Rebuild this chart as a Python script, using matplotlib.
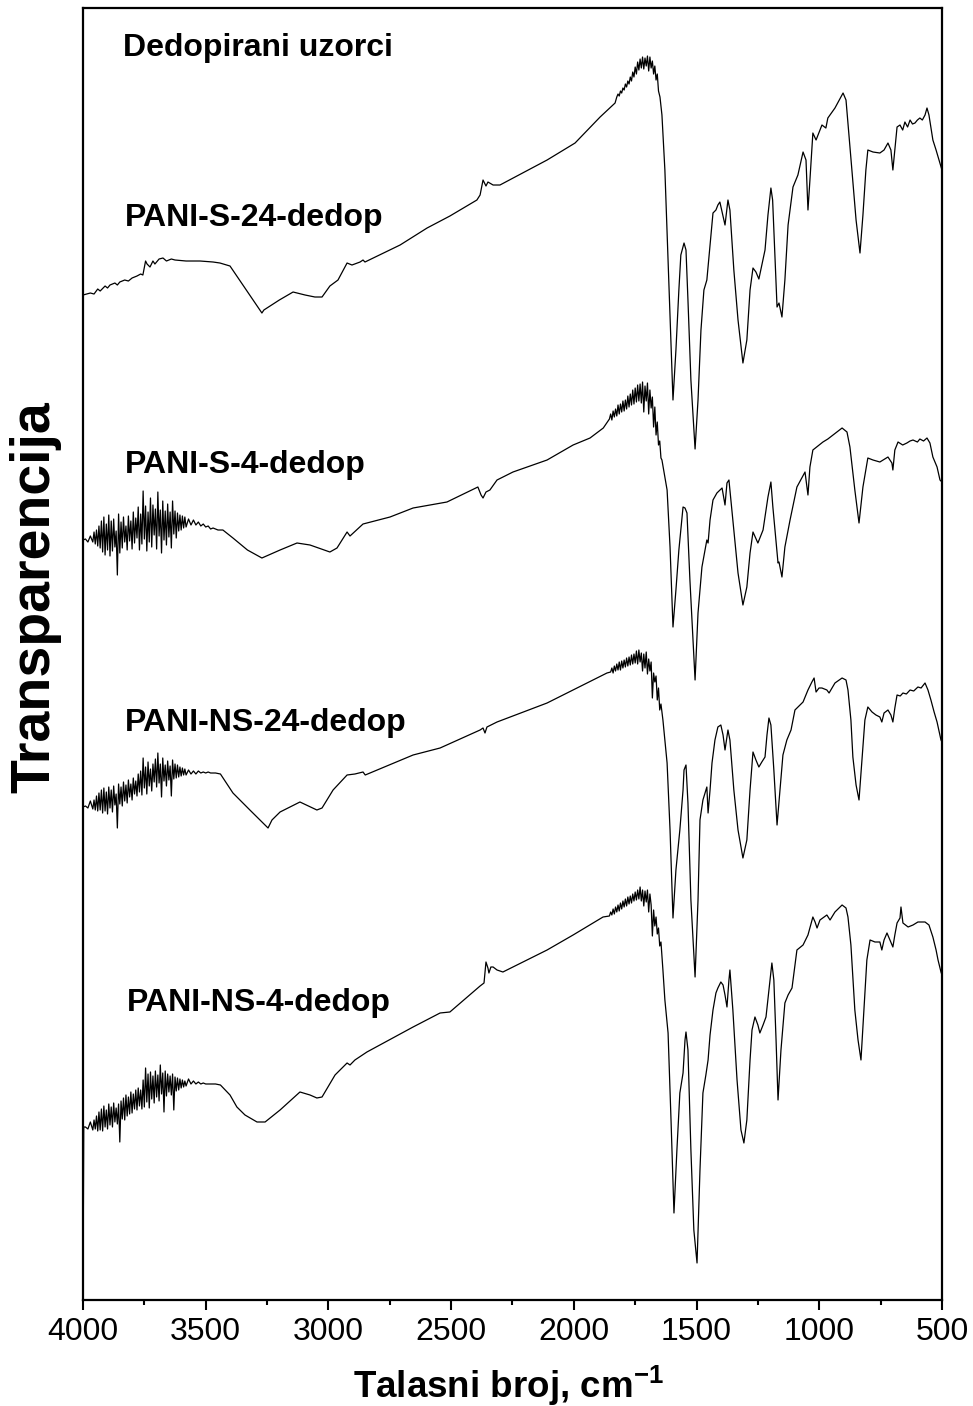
import numpy as np
import matplotlib
matplotlib.use("Agg")
import matplotlib.pyplot as plt
from matplotlib.ticker import MultipleLocator

plt.rcParams["font.family"] = ["Liberation Sans", "DejaVu Sans"]
plt.rcParams["mathtext.fontset"] = "custom"
plt.rcParams["mathtext.rm"] = "Liberation Sans"
plt.rcParams["mathtext.bf"] = "Liberation Sans:bold"

# FTIR spectra: (wavenumber cm-1, transparency, arbitrary units,
# already shifted vertically as drawn in the original figure)
pani_s24 = [
    (4000, 100.5), (3970, 100.7), (3955, 100.6), (3940, 101.1), (3930, 100.9),
    (3910, 101.4), (3900, 101.2), (3890, 101.5), (3870, 101.7), (3860, 101.5),
    (3850, 101.8), (3830, 102.0), (3815, 101.9), (3800, 102.2), (3780, 102.4),
    (3765, 102.6), (3756, 102.5), (3745, 103.9), (3739, 103.6), (3727, 103.3),
    (3715, 103.9), (3707, 103.6), (3690, 104.1), (3674, 104.2), (3660, 103.9),
    (3640, 104.1), (3625, 104.0), (3580, 103.9), (3523, 103.9), (3470, 103.8),
    (3442, 103.7), (3401, 103.4), (3340, 101.2), (3271, 98.7), (3263, 99.0),
    (3200, 100.0), (3144, 100.8), (3095, 100.5), (3055, 100.3), (3026, 100.3),
    (2994, 101.4), (2961, 102.0), (2924, 103.7), (2904, 103.5), (2871, 103.8),
    (2859, 104.0), (2851, 103.8), (2708, 105.5), (2598, 107.2), (2505, 108.4),
    (2395, 110.0), (2382, 110.5), (2370, 112.0), (2358, 111.4), (2350, 111.8),
    (2329, 111.5), (2301, 111.5), (2109, 114.0), (1995, 115.7), (1893, 118.3),
    (1832, 119.7), (1825, 120.3), (1820, 120.6), (1815, 120.4), (1810, 120.9),
    (1805, 120.7), (1800, 121.2), (1795, 121.0), (1790, 121.6), (1785, 121.3),
    (1780, 121.9), (1775, 121.6), (1770, 122.3), (1765, 121.9), (1760, 122.8),
    (1755, 122.3), (1750, 123.3), (1745, 122.6), (1740, 123.8), (1735, 123.0),
    (1730, 124.1), (1725, 123.2), (1720, 124.3), (1715, 123.1), (1710, 124.2),
    (1705, 123.4), (1700, 124.4), (1695, 122.9), (1690, 124.3), (1685, 123.2),
    (1680, 123.9), (1675, 122.6), (1670, 123.4), (1665, 122.0), (1660, 122.6),
    (1655, 120.9), (1649, 120.3), (1641, 118.5), (1629, 113.0), (1620, 106.7),
    (1608, 98.0), (1596, 90.0), (1584, 95.0), (1572, 101.0), (1564, 104.5),
    (1551, 105.7), (1543, 105.0), (1535, 100.0), (1523, 92.0), (1506, 85.1),
    (1494, 90.0), (1482, 97.0), (1470, 101.0), (1458, 102.0), (1445, 105.5),
    (1433, 108.7), (1421, 109.0), (1413, 109.5), (1405, 109.8), (1396, 108.8),
    (1384, 107.5), (1372, 110.0), (1364, 109.0), (1348, 103.0), (1331, 98.0),
    (1311, 93.7), (1295, 96.0), (1282, 101.0), (1270, 103.2), (1258, 102.8),
    (1246, 102.1), (1234, 103.5), (1221, 105.0), (1209, 108.5), (1197, 111.2),
    (1190, 110.0), (1180, 104.0), (1172, 99.3), (1164, 99.7), (1152, 98.3),
    (1140, 102.0), (1127, 107.5), (1107, 111.3), (1087, 112.5), (1066, 114.8),
    (1054, 114.0), (1046, 109.0), (1038, 112.0), (1026, 116.7), (1013, 116.0),
    (989, 117.5), (973, 117.2), (965, 118.2), (936, 119.2), (903, 120.7),
    (891, 120.0), (883, 117.7), (867, 113.0), (850, 108.0), (834, 104.7),
    (822, 108.5), (810, 113.0), (802, 115.0), (781, 114.8), (753, 114.7),
    (736, 115.0), (720, 115.7), (708, 115.0), (700, 113.0), (692, 115.0),
    (683, 117.3), (671, 117.5), (660, 117.0), (651, 117.8), (640, 117.3),
    (630, 118.0), (620, 117.6), (610, 117.7), (600, 118.0), (590, 118.2),
    (580, 118.0), (569, 118.5), (561, 119.2), (553, 118.5), (537, 116.0),
    (524, 115.0), (512, 114.0), (500, 113.0),
]

pani_s4 = [
    (4000, 76.0), (3990, 76.1), (3980, 75.8), (3970, 76.4),
    (3960, 75.8), (3955, 76.8), (3950, 75.6), (3945, 77.0), (3940, 75.4),
    (3935, 77.4), (3930, 75.2), (3925, 77.9), (3920, 74.8), (3915, 78.3),
    (3910, 74.5), (3905, 77.6), (3900, 75.0), (3895, 78.5), (3890, 74.4),
    (3885, 77.9), (3880, 74.9), (3875, 78.1), (3870, 75.3), (3865, 76.9),
    (3860, 72.5), (3855, 78.6), (3850, 74.7), (3845, 77.8), (3840, 75.2),
    (3835, 78.3), (3830, 75.8), (3825, 77.4), (3820, 75.0), (3815, 78.4),
    (3810, 75.9), (3805, 77.9), (3800, 75.1), (3795, 78.8), (3790, 75.7),
    (3785, 78.2), (3780, 76.2), (3775, 79.3), (3770, 75.0), (3765, 78.6),
    (3760, 75.6), (3755, 80.9), (3750, 76.1), (3745, 79.4), (3740, 74.9),
    (3735, 78.8), (3730, 75.8), (3725, 80.2), (3720, 75.3), (3715, 79.5),
    (3710, 76.5), (3705, 79.1), (3700, 75.1), (3695, 80.8), (3690, 76.4),
    (3685, 79.0), (3680, 74.7), (3675, 79.9), (3670, 76.0), (3665, 78.9),
    (3660, 75.5), (3655, 79.6), (3650, 76.3), (3645, 78.8), (3640, 75.2),
    (3635, 79.9), (3630, 76.6), (3625, 78.9), (3620, 76.2), (3615, 78.7),
    (3610, 76.9), (3605, 78.5), (3600, 77.0), (3595, 78.4), (3590, 77.2),
    (3585, 78.3), (3580, 77.3), (3570, 78.1), (3560, 77.5), (3550, 78.0),
    (3540, 77.5), (3530, 77.8), (3520, 77.4), (3510, 77.6), (3500, 77.3),
    (3490, 77.4), (3480, 77.1), (3470, 77.2), (3450, 77.0),
    (3430, 77.0), (3389, 76.2), (3330, 75.0), (3271, 74.2), (3197, 75.0),
    (3128, 75.7), (3075, 75.5), (2994, 74.8), (2965, 75.2), (2924, 76.8),
    (2912, 76.4), (2859, 77.6), (2749, 78.3), (2655, 79.2), (2517, 79.8),
    (2391, 81.3), (2378, 80.5), (2370, 80.2), (2358, 80.8), (2342, 81.0),
    (2313, 82.0), (2248, 82.8), (2109, 84.0), (2003, 85.5), (1934, 86.2),
    (1880, 87.2), (1855, 88.1), (1850, 88.6), (1845, 88.0), (1840, 88.9),
    (1835, 88.3), (1830, 89.1), (1825, 88.4), (1820, 89.5), (1815, 88.6),
    (1810, 89.6), (1805, 88.8), (1800, 89.9), (1795, 88.9), (1790, 90.0),
    (1785, 89.1), (1780, 90.4), (1775, 89.3), (1770, 90.6), (1765, 89.5),
    (1760, 91.0), (1755, 89.6), (1750, 91.2), (1745, 89.8), (1740, 91.5),
    (1735, 89.9), (1730, 91.6), (1725, 89.7), (1720, 91.8), (1715, 88.8),
    (1710, 91.4), (1705, 89.9), (1700, 91.7), (1695, 88.6), (1690, 91.0),
    (1685, 89.2), (1680, 90.3), (1675, 87.3), (1670, 89.3), (1665, 86.5),
    (1660, 87.8), (1655, 85.5), (1650, 85.9), (1645, 84.2), (1641, 84.0),
    (1620, 81.0), (1608, 75.3), (1596, 67.3), (1584, 71.0), (1572, 75.0),
    (1555, 79.3), (1547, 79.2), (1539, 78.7), (1527, 72.0), (1506, 62.0),
    (1494, 68.7), (1478, 73.3), (1458, 76.0), (1453, 75.7), (1445, 78.0),
    (1433, 80.0), (1417, 80.7), (1396, 81.2), (1384, 79.5), (1376, 81.7),
    (1368, 82.0), (1352, 78.0), (1331, 72.7), (1311, 69.5), (1295, 71.3),
    (1282, 74.7), (1270, 76.8), (1250, 75.7), (1229, 77.0), (1209, 80.3),
    (1197, 81.8), (1189, 79.3), (1168, 73.7), (1164, 73.8), (1152, 72.3),
    (1140, 75.3), (1119, 78.0), (1091, 81.3), (1058, 82.8), (1046, 80.5),
    (1038, 83.3), (1026, 85.0), (985, 85.8), (965, 86.1), (907, 87.2),
    (887, 86.8), (875, 85.3), (855, 81.0), (838, 77.7), (822, 81.3),
    (802, 84.2), (781, 84.0), (753, 83.8), (720, 84.3), (704, 83.7),
    (700, 83.0), (692, 85.0), (679, 85.8), (660, 85.5), (643, 85.7),
    (630, 85.9), (618, 86.0), (600, 85.8), (590, 86.1), (575, 85.9),
    (561, 86.2), (549, 85.7), (537, 84.3), (520, 83.3), (508, 82.0),
    (500, 81.8),
]

pani_ns24 = [
    (4000, 49.3), (3990, 49.4), (3980, 49.2), (3970, 49.9),
    (3960, 49.1), (3955, 50.0), (3950, 49.0), (3945, 50.4), (3940, 48.9),
    (3935, 50.7), (3930, 49.0), (3925, 51.0), (3920, 48.7), (3915, 51.2),
    (3910, 48.9), (3905, 50.8), (3900, 48.6), (3895, 51.3), (3890, 49.2),
    (3885, 51.0), (3880, 48.8), (3875, 51.4), (3870, 49.5), (3865, 50.6),
    (3860, 47.2), (3855, 51.6), (3850, 49.6), (3845, 51.3), (3840, 49.4),
    (3835, 51.8), (3830, 49.9), (3825, 51.5), (3820, 49.7), (3815, 52.0),
    (3810, 50.3), (3805, 51.6), (3800, 50.0), (3795, 52.2), (3790, 50.6),
    (3785, 51.9), (3780, 50.4), (3775, 52.6), (3770, 50.8), (3765, 52.9),
    (3760, 50.5), (3755, 54.2), (3750, 51.2), (3745, 53.3), (3740, 50.6),
    (3735, 53.8), (3730, 51.4), (3725, 53.1), (3720, 50.9), (3715, 53.6),
    (3710, 51.8), (3705, 54.1), (3700, 51.3), (3695, 54.7), (3690, 51.7),
    (3685, 53.6), (3680, 50.3), (3675, 54.2), (3670, 51.9), (3665, 53.5),
    (3660, 51.4), (3655, 53.9), (3650, 52.0), (3645, 53.4), (3640, 50.4),
    (3635, 54.0), (3630, 52.1), (3625, 53.6), (3620, 52.2), (3615, 53.5),
    (3610, 52.3), (3605, 53.3), (3600, 52.4), (3595, 53.2), (3590, 52.5),
    (3585, 53.1), (3580, 52.5), (3570, 53.0), (3560, 52.6), (3550, 52.9),
    (3540, 52.6), (3530, 52.9), (3520, 52.7), (3510, 52.8), (3500, 52.7),
    (3490, 52.8), (3480, 52.7), (3460, 52.7), (3440, 52.6),
    (3389, 50.7), (3320, 49.0), (3246, 47.2), (3230, 48.0), (3197, 48.8),
    (3116, 49.8), (3047, 49.0), (3026, 49.2), (2981, 51.0), (2924, 52.5),
    (2892, 52.6), (2859, 52.8), (2850, 52.5), (2655, 54.5), (2545, 55.2),
    (2382, 57.0), (2370, 57.2), (2362, 56.7), (2354, 57.3), (2313, 57.8),
    (2109, 59.7), (2003, 61.0), (1865, 62.7), (1850, 62.8), (1845, 63.2),
    (1840, 62.7), (1835, 63.4), (1830, 62.9), (1825, 63.6), (1820, 63.0),
    (1815, 63.8), (1810, 63.0), (1805, 63.9), (1800, 63.2), (1795, 64.0),
    (1790, 63.3), (1785, 64.2), (1780, 63.4), (1775, 64.3), (1770, 63.5),
    (1765, 64.5), (1760, 63.6), (1755, 64.6), (1750, 63.7), (1745, 64.9),
    (1740, 63.6), (1735, 65.0), (1730, 63.8), (1725, 64.7), (1720, 62.9),
    (1715, 64.6), (1710, 63.2), (1705, 64.8), (1700, 62.6), (1695, 64.1),
    (1690, 62.9), (1685, 63.8), (1680, 60.2), (1675, 62.7), (1670, 61.8),
    (1665, 62.4), (1660, 60.0), (1655, 61.2), (1650, 59.0), (1645, 59.6),
    (1637, 58.0), (1620, 53.7), (1608, 47.0), (1596, 38.2), (1584, 43.0),
    (1568, 47.0), (1555, 51.0), (1551, 53.0), (1543, 53.5), (1535, 49.7),
    (1523, 40.0), (1506, 32.3), (1494, 40.0), (1486, 48.0), (1474, 50.0),
    (1458, 51.3), (1453, 48.7), (1445, 51.0), (1437, 53.7), (1425, 56.0),
    (1413, 57.3), (1401, 57.5), (1392, 56.5), (1384, 55.0), (1372, 57.0),
    (1364, 56.0), (1348, 51.0), (1331, 47.0), (1311, 44.2), (1295, 46.0),
    (1282, 51.0), (1270, 54.8), (1258, 54.0), (1246, 53.3), (1234, 53.8),
    (1221, 54.3), (1213, 56.5), (1205, 58.2), (1197, 57.5), (1185, 53.0),
    (1172, 47.5), (1160, 51.0), (1148, 54.5), (1132, 56.0), (1115, 57.0),
    (1099, 59.0), (1066, 59.8), (1046, 61.0), (1030, 61.8), (1021, 62.2),
    (1013, 60.8), (1001, 61.2), (989, 61.2), (969, 61.0), (960, 60.7),
    (936, 61.7), (907, 62.2), (891, 62.0), (883, 61.0), (871, 58.0),
    (863, 54.3), (850, 51.5), (838, 50.0), (826, 54.0), (814, 58.0),
    (802, 59.3), (785, 58.8), (769, 58.5), (753, 58.3), (745, 57.8),
    (736, 58.7), (720, 59.0), (708, 58.5), (700, 57.8), (692, 59.2),
    (683, 60.5), (670, 60.4), (659, 60.7), (645, 60.6), (630, 61.0),
    (615, 60.9), (598, 61.3), (585, 61.2), (569, 61.7), (557, 61.0),
    (545, 60.0), (532, 58.8), (520, 57.8), (504, 56.0), (500, 55.8),
]

pani_ns4 = [
    (4000, 0.4), (3997, 17.3), (3990, 17.3), (3980, 17.1), (3970, 17.8),
    (3960, 17.0), (3955, 18.0), (3950, 17.1), (3945, 18.4), (3940, 16.9),
    (3935, 18.8), (3930, 17.0), (3925, 19.1), (3920, 16.9), (3915, 19.4),
    (3910, 17.3), (3905, 19.0), (3900, 17.1), (3895, 19.6), (3890, 17.5),
    (3885, 19.3), (3880, 17.3), (3875, 19.7), (3870, 17.8), (3865, 19.2),
    (3860, 17.6), (3855, 19.6), (3850, 15.8), (3845, 19.9), (3840, 18.1),
    (3835, 20.2), (3830, 18.0), (3825, 20.5), (3820, 18.4), (3815, 20.3),
    (3810, 18.6), (3805, 20.8), (3800, 18.7), (3795, 20.6), (3790, 19.1),
    (3785, 21.0), (3780, 19.0), (3775, 21.2), (3770, 19.4), (3765, 21.0),
    (3760, 19.1), (3755, 22.0), (3750, 19.3), (3745, 23.2), (3740, 19.8),
    (3735, 22.6), (3730, 19.2), (3725, 22.8), (3720, 20.1), (3715, 22.4),
    (3710, 19.7), (3705, 22.9), (3700, 20.3), (3695, 22.5), (3690, 19.9),
    (3685, 23.5), (3680, 20.6), (3675, 22.7), (3670, 18.8), (3665, 22.9),
    (3660, 20.4), (3655, 22.6), (3650, 20.8), (3645, 22.4), (3640, 20.5),
    (3635, 22.6), (3630, 19.0), (3625, 22.3), (3620, 20.9), (3615, 22.2),
    (3610, 21.0), (3605, 22.1), (3600, 21.2), (3595, 22.0), (3590, 21.3),
    (3585, 21.9), (3580, 21.4), (3570, 22.1), (3560, 21.6), (3550, 21.9),
    (3540, 21.6), (3530, 21.8), (3520, 21.6), (3510, 21.7), (3500, 21.6),
    (3480, 21.6), (3460, 21.6), (3440, 21.5),
    (3401, 20.5), (3373, 19.3), (3340, 18.5), (3291, 17.8), (3258, 17.8),
    (3197, 19.0), (3116, 20.8), (3075, 20.5), (3047, 20.2), (3026, 20.3),
    (2973, 22.5), (2924, 23.7), (2912, 23.5), (2892, 24.0), (2843, 24.8),
    (2655, 27.3), (2545, 28.7), (2505, 28.8), (2382, 31.4), (2366, 31.7),
    (2358, 33.8), (2350, 33.2), (2346, 32.7), (2338, 33.3), (2329, 33.3),
    (2313, 33.0), (2289, 32.8), (2109, 35.0), (2003, 36.5), (1881, 38.3),
    (1855, 38.4), (1850, 38.8), (1845, 38.5), (1840, 39.1), (1835, 38.6),
    (1830, 39.3), (1825, 38.8), (1820, 39.5), (1815, 38.9), (1810, 39.7),
    (1805, 39.1), (1800, 39.9), (1795, 39.3), (1790, 40.1), (1785, 39.4),
    (1780, 40.3), (1775, 39.6), (1770, 40.4), (1765, 39.7), (1760, 40.6),
    (1755, 39.9), (1750, 40.8), (1745, 40.0), (1740, 41.0), (1735, 40.1),
    (1730, 41.3), (1725, 39.9), (1720, 41.0), (1715, 39.4), (1710, 40.9),
    (1705, 39.8), (1700, 41.0), (1695, 38.8), (1690, 40.6), (1685, 39.5),
    (1680, 36.4), (1675, 39.0), (1670, 37.4), (1665, 38.3), (1660, 36.6),
    (1655, 37.2), (1650, 35.4), (1645, 35.8), (1637, 33.0), (1629, 30.0),
    (1616, 26.7), (1604, 18.0), (1592, 8.7), (1580, 15.0), (1568, 20.7),
    (1555, 22.7), (1547, 26.0), (1543, 26.8), (1535, 25.0), (1523, 15.0),
    (1511, 7.0), (1498, 3.7), (1486, 13.0), (1474, 20.7), (1462, 22.5),
    (1453, 24.0), (1445, 26.5), (1433, 29.0), (1421, 30.7), (1413, 31.2),
    (1401, 31.8), (1392, 31.5), (1384, 30.5), (1376, 29.3), (1368, 32.0),
    (1364, 33.0), (1352, 29.0), (1335, 22.0), (1319, 17.0), (1307, 15.7),
    (1295, 18.0), (1282, 24.0), (1274, 27.0), (1262, 28.3), (1250, 27.5),
    (1242, 26.7), (1229, 27.5), (1217, 28.3), (1205, 31.0), (1193, 33.7),
    (1185, 32.0), (1176, 26.0), (1168, 20.0), (1156, 25.0), (1140, 29.7),
    (1127, 30.5), (1111, 31.2), (1099, 33.5), (1091, 35.0), (1066, 35.5),
    (1046, 36.5), (1026, 38.3), (1017, 37.8), (1009, 37.2), (997, 38.0),
    (969, 38.5), (956, 38.0), (936, 38.8), (907, 39.5), (891, 39.2),
    (883, 38.3), (871, 35.5), (855, 29.0), (842, 26.0), (830, 24.0),
    (818, 29.0), (806, 34.0), (793, 36.0), (773, 35.8), (753, 35.8),
    (745, 35.0), (736, 36.0), (724, 36.7), (712, 36.0), (700, 35.3),
    (692, 36.5), (683, 37.7), (671, 38.2), (667, 39.3), (659, 37.7),
    (638, 37.3), (618, 37.5), (598, 37.8), (569, 37.8), (553, 37.5),
    (537, 36.3), (524, 35.0), (516, 34.0), (504, 32.8), (500, 32.5),
]

spectra = [pani_s24, pani_s4, pani_ns24, pani_ns4]
sample_names = ["PANI-S-24-dedop", "PANI-S-4-dedop", "PANI-NS-24-dedop", "PANI-NS-4-dedop"]
name_pos = [(3829, 108.2), (3829, 83.5), (3829, 57.7), (3821, 29.7)]

fig = plt.figure(figsize=(9.73, 14.06), dpi=100)
ax = fig.add_axes([0.0853, 0.0754, 0.8828, 0.9189])

for spec in spectra:
    wn, tr = np.array(spec).T
    ax.plot(wn, tr, color="black", lw=0.9)

for name, (x, y) in zip(sample_names, name_pos):
    ax.text(x, y, name, fontsize=23, fontweight="bold", ha="left", va="center")

ax.text(3837, 125.2, "Dedopirani uzorci", fontsize=23, fontweight="bold",
        ha="left", va="center")

ax.set_xlim(4000, 500)
ax.set_ylim(0, 129.2)
ax.xaxis.set_major_locator(MultipleLocator(500))
ax.xaxis.set_minor_locator(MultipleLocator(250))
ax.set_yticks([])
ax.tick_params(axis="x", which="major", direction="out", length=7, width=1.5,
               labelsize=23, pad=5)
ax.tick_params(axis="x", which="minor", direction="out", length=3.5, width=1.5)
for side in ax.spines.values():
    side.set_linewidth(1.6)

fig.text(0.522, 0.0149, r"Talasni broj, cm$^{\mathbf{-1}}$", fontsize=26.5,
         fontweight="bold", ha="center", va="center")
fig.text(0.036, 0.5754, "Transparencija", fontsize=40, fontweight="bold",
         rotation=90, ha="center", va="center")

fig.savefig("out.png", dpi=100)
